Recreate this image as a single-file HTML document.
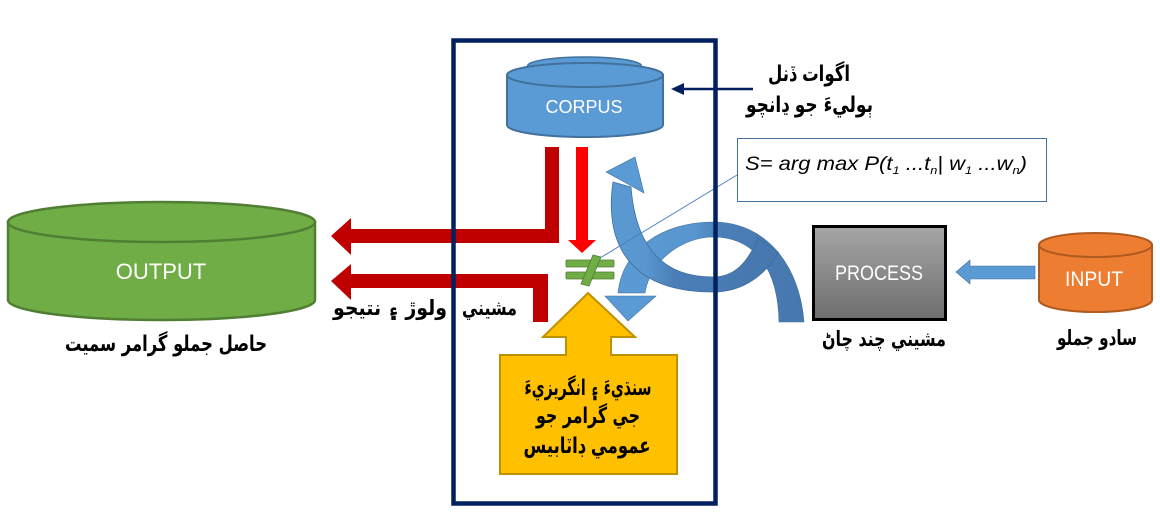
<!DOCTYPE html>
<html>
<head>
<meta charset="utf-8">
<style>
  html,body{margin:0;padding:0;background:#fff;}
  body{width:1160px;height:531px;overflow:hidden;}
  svg{display:block;}
  .ar{font-family:"DejaVu Sans",sans-serif;font-weight:bold;fill:#000;}
  .lat{font-family:"Liberation Sans",Arial,sans-serif;fill:#fff;}
</style>
</head>
<body>
<svg width="1160" height="531" viewBox="0 0 1160 531" xmlns="http://www.w3.org/2000/svg">
  <defs>
    <linearGradient id="gProc" x1="0" y1="0" x2="0" y2="1">
      <stop offset="0" stop-color="#A6A6A6"/>
      <stop offset="1" stop-color="#6E6E6E"/>
    </linearGradient>
    <linearGradient id="gB" gradientUnits="userSpaceOnUse" x1="600" y1="0" x2="810" y2="0">
      <stop offset="0" stop-color="#5B9BD5"/>
      <stop offset="0.45" stop-color="#5996CF"/>
      <stop offset="0.58" stop-color="#4A7EB6"/>
      <stop offset="1" stop-color="#4677AE"/>
    </linearGradient>
    <linearGradient id="gA" gradientUnits="userSpaceOnUse" x1="600" y1="0" x2="780" y2="0">
      <stop offset="0" stop-color="#5B9BD5"/>
      <stop offset="0.25" stop-color="#5996CF"/>
      <stop offset="0.42" stop-color="#4A7EB6"/>
      <stop offset="1" stop-color="#4677AE"/>
    </linearGradient>
  </defs>

  <!-- OUTPUT cylinder -->
  <path d="M8 222 L8 300 A153.5 20 0 0 0 315 300 L315 222 Z" fill="#70AD47" stroke="#507E32" stroke-width="2.5"/>
  <ellipse cx="161.5" cy="222" rx="153.5" ry="20" fill="#70AD47" stroke="#507E32" stroke-width="2.5"/>
  <text class="lat" x="161" y="279" font-size="22" text-anchor="middle">OUTPUT</text>

  <!-- CORPUS cylinder -->
  <ellipse cx="584.5" cy="66" rx="57" ry="9" fill="#5B9BD5" stroke="#41719C" stroke-width="1.5"/>
  <path d="M507 75 L507 125 A78 12 0 0 0 663 125 L663 75 Z" fill="#5B9BD5" stroke="#41719C" stroke-width="2"/>
  <ellipse cx="585" cy="75" rx="78" ry="12" fill="#5B9BD5" stroke="#41719C" stroke-width="2"/>
  <text class="lat" x="584" y="113" font-size="18" text-anchor="middle">CORPUS</text>

  <!-- navy arrow to corpus -->
  <line x1="753" y1="89" x2="682" y2="89" stroke="#002060" stroke-width="2.5"/>
  <polygon points="671,89 684,83 684,95" fill="#002060"/>

  <!-- dark red arrows -->
  <polygon points="545,147 559,147 559,243 351,243 351,255 331,236 351,218 351,229 545,229" fill="#C00000"/>
  <polygon points="548,274 548,322 533,322 533,288 351,288 351,300 331,281 351,264 351,274" fill="#C00000"/>

  <!-- bright red arrow -->
  <polygon points="576,147 588,147 588,240 596,240 582,253 568,240 576,240" fill="#FF0000"/>

  <!-- not-equal sign -->
  <rect x="566" y="260" width="48" height="7" rx="1" fill="#70AD47" stroke="#507E32" stroke-width="0.8"/>
  <rect x="566" y="272" width="48" height="7" rx="1" fill="#70AD47" stroke="#507E32" stroke-width="0.8"/>
  <polygon points="593,255 601,257 589,286 581,284" fill="#70AD47" stroke="#507E32" stroke-width="0.8"/>

  <!-- yellow arrow -->
  <polygon points="588,293 635,337 611,337 611,355 677,355 677,474 500,474 500,355 566,355 566,337 543,337" fill="#FFC000" stroke="#BF9000" stroke-width="2"/>

  <!-- band B (arch with down arrowhead) -->
  <path d="M618 293 C622 250, 662 222, 713 222 C768 222, 800 268, 804 322 L779 322 C778 265, 752 237, 713 237 C683 237, 650 260, 645 293 Z" fill="url(#gB)" stroke="#41719C" stroke-width="0.6"/>
  <polygon points="605,296 656,296 628,321" fill="#5B9BD5" stroke="#41719C" stroke-width="0.6"/>

  <!-- band A (up arrow curving under, filled) -->
  <path d="M613 182 C605 235, 622 292, 713 292 C745 292, 768 272, 778 252 L758 238 C748 262, 735 277, 713 277 C665 277, 636 250, 631 187 Z" fill="url(#gA)" stroke="#3F6E9E" stroke-width="0.8"/>
  <polygon points="606,172 635,157 644,193" fill="#5B9BD5" stroke="#41719C" stroke-width="0.6"/>

  <!-- connector line to formula -->
  <line x1="600" y1="258" x2="737" y2="175" stroke="#4F81BD" stroke-width="1"/>

  <!-- formula box -->
  <rect x="737.5" y="138.5" width="309" height="63" fill="#fff" stroke="#41719C" stroke-width="1"/>
  <text x="745" y="170" font-family="Liberation Sans, Arial, sans-serif" font-style="italic" font-size="19" fill="#000" textLength="282" lengthAdjust="spacingAndGlyphs">S= arg max P(t<tspan font-size="11" dy="4">1</tspan><tspan dy="-4"> ...t</tspan><tspan font-size="11" dy="4">n</tspan><tspan dy="-4">| w</tspan><tspan font-size="11" dy="4">1</tspan><tspan dy="-4"> ...w</tspan><tspan font-size="11" dy="4">n</tspan><tspan dy="-4">)</tspan></text>

  <!-- PROCESS box -->
  <rect x="813.5" y="226.5" width="132" height="93" fill="url(#gProc)" stroke="#000" stroke-width="3"/>
  <text class="lat" x="879" y="280" font-size="21" text-anchor="middle" textLength="88" lengthAdjust="spacingAndGlyphs">PROCESS</text>

  <!-- input -> process arrow -->
  <polygon points="956,272 970,260 970,266 1035,266 1035,279 970,279 970,284" fill="#5B9BD5" stroke="#41719C" stroke-width="0.6"/>

  <!-- INPUT cylinder -->
  <path d="M1039 245 L1039 300 A56.5 12 0 0 0 1152 300 L1152 245 Z" fill="#ED7D31" stroke="#AE5A21" stroke-width="2"/>
  <ellipse cx="1095.5" cy="245" rx="56.5" ry="12" fill="#ED7D31" stroke="#AE5A21" stroke-width="2"/>
  <text class="lat" x="1094" y="286" font-size="21" text-anchor="middle" textLength="58" lengthAdjust="spacingAndGlyphs">INPUT</text>

  <!-- main navy frame -->
  <rect x="453.5" y="40.5" width="262" height="463" fill="none" stroke="#002060" stroke-width="4.5"/>

  <!-- Arabic / Sindhi labels -->
  <text class="ar" x="809" y="81" font-size="22" text-anchor="middle" textLength="82" lengthAdjust="spacingAndGlyphs">اگوات ڏنل</text>
  <text class="ar" x="809.5" y="112" font-size="22" text-anchor="middle" textLength="127" lengthAdjust="spacingAndGlyphs">ٻوليءَ جو ڍانچو</text>

  <text class="ar" x="489.5" y="315" font-size="21" text-anchor="middle" textLength="55" lengthAdjust="spacingAndGlyphs">مشيني</text>
  <text class="ar" x="390" y="315" font-size="21" text-anchor="middle" textLength="114" lengthAdjust="spacingAndGlyphs">ولوڙ ۽ نتيجو</text>
  <text class="ar" x="166" y="351" font-size="22" text-anchor="middle" textLength="202" lengthAdjust="spacingAndGlyphs">حاصل جملو گرامر سميت</text>

  <text class="ar" x="884" y="346" font-size="21" text-anchor="middle" textLength="124" lengthAdjust="spacingAndGlyphs">مشيني چند چاڻ</text>
  <text class="ar" x="1097" y="345" font-size="21" text-anchor="middle" textLength="80" lengthAdjust="spacingAndGlyphs">سادو جملو</text>

  <text class="ar" x="588" y="395" font-size="22" text-anchor="middle" textLength="127" lengthAdjust="spacingAndGlyphs">سنڌيءَ ۽ انگريزيءَ</text>
  <text class="ar" x="588" y="423" font-size="22" text-anchor="middle" textLength="104" lengthAdjust="spacingAndGlyphs">جي گرامر جو</text>
  <text class="ar" x="587" y="453" font-size="22" text-anchor="middle" textLength="127" lengthAdjust="spacingAndGlyphs">عمومي ڊاٽابيس</text>
</svg>
</body>
</html>
